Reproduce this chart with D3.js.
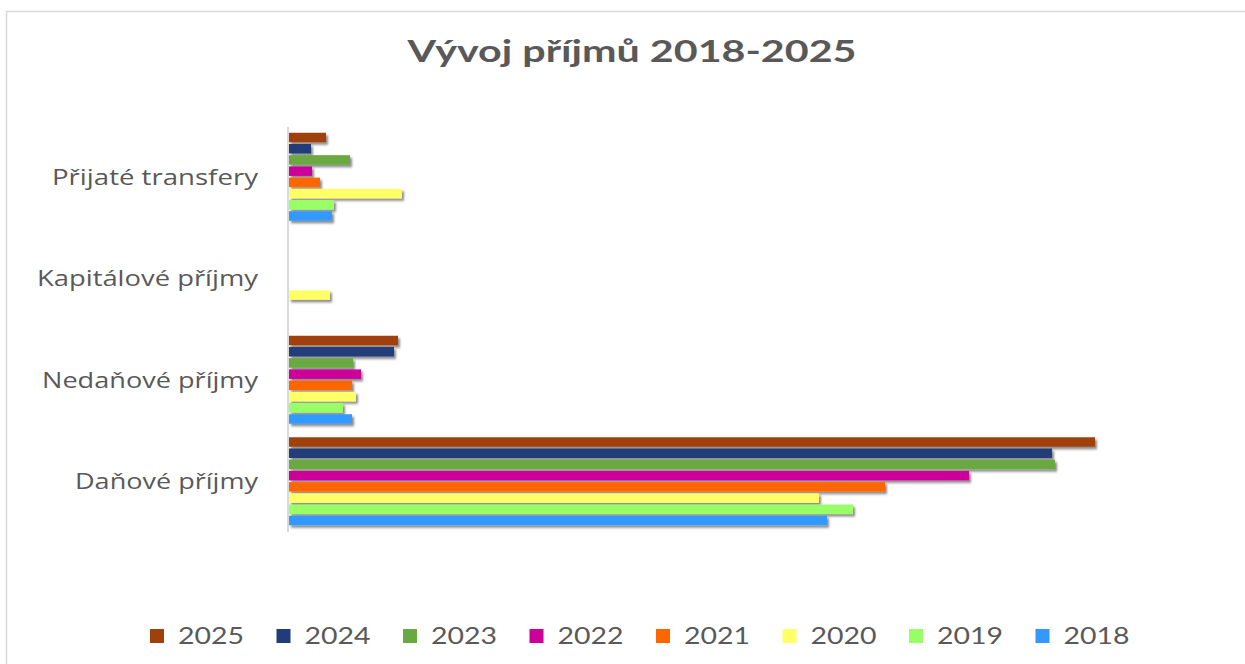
<!DOCTYPE html>
<html>
<head>
<meta charset="utf-8">
<script src="https://cdn.jsdelivr.net/npm/d3@7"></script>
<style>
  html, body { margin: 0; padding: 0; background: #fff; }
  svg { display: block; }
</style>
</head>
<body>
<div id="chart"></div>
<script>
// categories top to bottom, as drawn
const categories = ["Přijaté transfery", "Kapitálové příjmy", "Nedaňové příjmy", "Daňové příjmy"];
const years = ["2025", "2024", "2023", "2022", "2021", "2020", "2019", "2018"];
const colors = ["#a0410d", "#203d78", "#6aa842", "#cc0099", "#ff6600", "#ffff66", "#99ff66", "#3399ff"];

// values per year, in category order above
const v2025 = [37, 0, 109, 806];
const v2024 = [22, 0, 105, 763];
const v2023 = [61, 0, 64, 766];
const v2022 = [23, 0, 72, 680];
const v2021 = [31, 0, 63, 596];
const v2020 = [113, 41, 67, 530];
const v2019 = [45, 0, 54, 564];
const v2018 = [43, 0, 63, 538];

const seriesValues = [v2025, v2024, v2023, v2022, v2021, v2020, v2019, v2018];

const width = 1245, height = 664;
const textColor = "#595959";

const data = categories.map((c, i) => ({
    category: c,
    values: years.map((y, j) => ({ year: y, value: seriesValues[j][i], color: colors[j] }))
}));

const svg = d3.select("#chart").append("svg")
    .attr("width", width)
    .attr("height", height);

const defs = svg.append("defs");
const shadow = defs.append("filter")
    .attr("id", "shadow")
    .attr("x", "-5%").attr("y", "-50%")
    .attr("width", "120%").attr("height", "250%");
shadow.append("feDropShadow")
    .attr("dx", 2).attr("dy", 2.5)
    .attr("stdDeviation", 1.3)
    .attr("flood-color", "#000")
    .attr("flood-opacity", 0.45);

// outer frame (top and left edges visible)
svg.append("path")
    .attr("d", `M6.5,${height} V11.5 H${width}`)
    .attr("fill", "none")
    .attr("stroke", "#d9d9d9")
    .attr("stroke-width", 1.5);

// title
svg.append("text")
    .attr("x", 632)
    .attr("y", 62)
    .attr("text-anchor", "middle")
    .attr("font-family", "Lato, 'Open Sans', sans-serif")
    .attr("font-weight", "bold")
    .attr("font-size", 31)
    .attr("fill", textColor)
    .attr("textLength", 449)
    .attr("lengthAdjust", "spacingAndGlyphs")
    .text("Vývoj příjmů 2018-2025");

const x = d3.scaleLinear()
    .domain([0, 1000])
    .range([288, 1288]);

const y0 = d3.scaleBand()
    .domain(categories)
    .range([126, 532])
    .paddingInner(0.1)
    .paddingOuter(0.05);

const y1 = d3.scaleBand()
    .domain(years)
    .range([0, y0.bandwidth()])
    .padding(0.15);

const groups = svg.append("g")
    .selectAll("g")
    .data(data)
    .join("g")
    .attr("transform", d => `translate(0,${y0(d.category)})`);

groups.selectAll("rect")
    .data(d => d.values.filter(v => v.value > 0))
    .join("rect")
    .attr("x", x(0) + 1)
    .attr("y", d => y1(d.year))
    .attr("height", y1.bandwidth())
    .attr("width", d => x(d.value) - x(0))
    .attr("fill", d => d.color)
    .attr("filter", "url(#shadow)");

// vertical axis line
svg.append("line")
    .attr("x1", x(0)).attr("x2", x(0))
    .attr("y1", 127).attr("y2", 532)
    .attr("stroke", "#d9d9d9")
    .attr("stroke-width", 2);

// category labels
const labelWidths = { "Přijaté transfery": 206, "Kapitálové příjmy": 221, "Nedaňové příjmy": 216, "Daňové příjmy": 183 };
svg.append("g")
    .selectAll("text")
    .data(categories)
    .join("text")
    .attr("x", 258)
    .attr("y", d => y0(d) + y0.bandwidth() / 2 + 8)
    .attr("text-anchor", "end")
    .attr("font-family", "'Open Sans', sans-serif")
    .attr("font-size", 21)
    .attr("fill", textColor)
    .attr("textLength", d => labelWidths[d])
    .attr("lengthAdjust", "spacingAndGlyphs")
    .text(d => d);

// legend
const lx = d3.scaleBand()
    .domain(years)
    .range([150, 150 + 126.5 * years.length]);

const legend = svg.append("g")
    .selectAll("g")
    .data(years)
    .join("g")
    .attr("transform", d => `translate(${lx(d)},0)`);

legend.append("rect")
    .attr("x", 0)
    .attr("y", 629)
    .attr("width", 14)
    .attr("height", 14)
    .attr("fill", (d, i) => colors[i]);

legend.append("text")
    .attr("x", 28)
    .attr("y", 644)
    .attr("font-family", "Lato, 'Open Sans', sans-serif")
    .attr("font-size", 24)
    .attr("fill", textColor)
    .attr("textLength", 66)
    .attr("lengthAdjust", "spacingAndGlyphs")
    .text(d => d);
</script>
</body>
</html>
